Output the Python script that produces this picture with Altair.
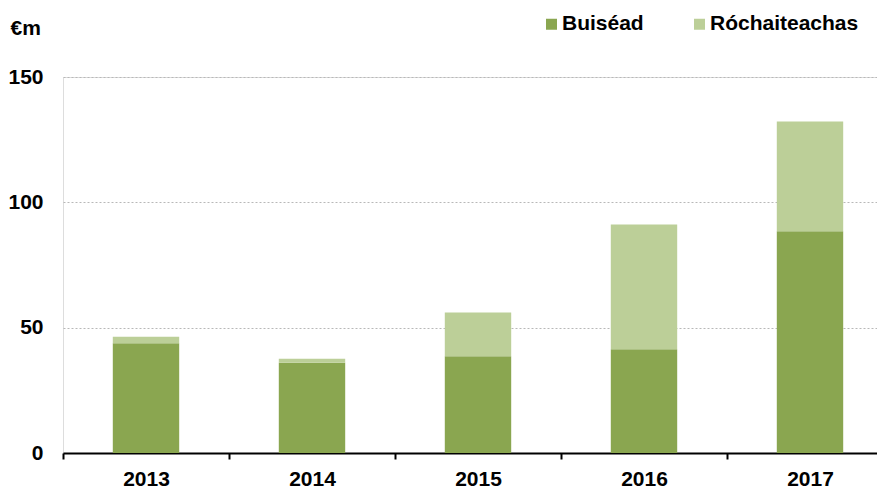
import altair as alt
import pandas as pd

years = ["2013", "2014", "2015", "2016", "2017"]
buisead = [43.8, 36.0, 38.6, 41.4, 88.5]
rochaiteachas = [2.6, 1.6, 17.5, 49.8, 43.7]
series_names = ["Buiséad", "Róchaiteachas"]
series_colors = ["#8aa650", "#bccf98"]
y_ticks = [0, 50, 100, 150]

rows = []
for i, yr in enumerate(years):
    rows.append({"year": yr, "series": series_names[0], "value": buisead[i], "ord": 0})
    rows.append({"year": yr, "series": series_names[1], "value": rochaiteachas[i], "ord": 1})
df = pd.DataFrame(rows)

W = 814
H = 376
XR = 830
step = XR / len(years)
FONT = "Liberation Sans"
FS = 21

chart = alt.Chart(df).mark_bar().encode(
    x=alt.X(
        "year:N", sort=years, title=None,
        scale=alt.Scale(paddingInner=0.6, paddingOuter=0.3, range=[0, XR]),
        axis=alt.Axis(
            labelAngle=0, domainColor="black", domainWidth=2,
            tickColor="black", tickWidth=2, tickSize=6,
            tickOffset=-step / 2, labelOffset=step / 2, labelPadding=9,
            labelFontSize=FS, labelFontWeight="bold", labelColor="black",
            labelFont=FONT, grid=False,
        ),
    ),
    y=alt.Y(
        "value:Q", stack="zero", scale=alt.Scale(domain=[0, 150]),
        axis=alt.Axis(
            values=y_ticks, title="€m", titleAngle=0, titleX=-53, titleY=-43,
            titleAlign="left", titleBaseline="alphabetic", titleFontSize=FS,
            titleFontWeight="bold", titleColor="black", titleFont=FONT,
            domain=False, ticks=False, labelPadding=20, labelFontSize=FS,
            labelFontWeight="bold", labelColor="black", labelFont=FONT,
            gridColor="#b8b8b8", gridDash=[2, 2], gridWidth=1,
        ),
    ),
    color=alt.Color(
        "series:N",
        scale=alt.Scale(domain=series_names, range=series_colors),
        legend=alt.Legend(
            orient="none", legendX=478, legendY=-63.5, direction="horizontal",
            title=None, symbolType="square", symbolSize=121, symbolStrokeWidth=0,
            labelFontSize=FS, labelFontWeight="bold", labelFont=FONT,
            labelColor="black", columnPadding=45, labelOffset=0,
        ),
    ),
    order=alt.Order("ord:Q", sort="ascending"),
).properties(
    width=W, height=H,
    autosize=alt.AutoSizeParams(type="none"),
    padding={"left": 55, "top": 69, "right": 0, "bottom": 35},
).configure_view(stroke=None).configure(font=FONT)

chart.save("out.html", embed_options={"renderer": "svg", "actions": False})
